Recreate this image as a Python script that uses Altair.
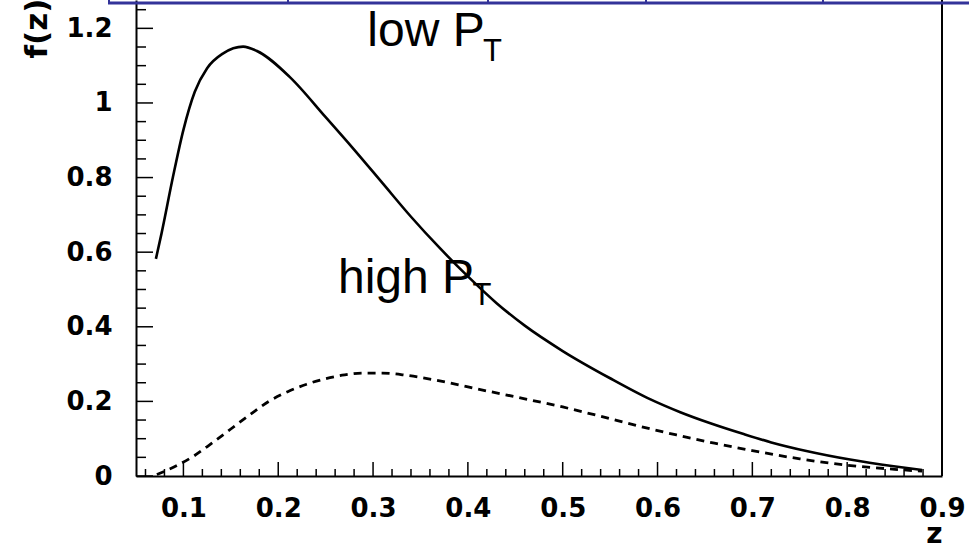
import altair as alt
import pandas as pd

# ---- data ----
low_z = [0.071, 0.077, 0.089, 0.100, 0.112, 0.125, 0.142, 0.163, 0.177, 0.212,
         0.25, 0.28, 0.31, 0.34, 0.37, 0.40, 0.43, 0.46, 0.50, 0.55,
         0.592, 0.624, 0.655, 0.69, 0.72, 0.757, 0.803, 0.849, 0.879]
low_f = [0.582, 0.651, 0.802, 0.928, 1.030, 1.093, 1.133, 1.151, 1.140, 1.070,
         0.962, 0.875, 0.785, 0.695, 0.612, 0.535, 0.464, 0.403, 0.335, 0.262,
         0.206, 0.171, 0.142, 0.113, 0.090, 0.067, 0.044, 0.026, 0.016]

high_z = [0.072, 0.09, 0.11, 0.13, 0.15, 0.17, 0.19, 0.21, 0.23, 0.25,
          0.27, 0.29, 0.31, 0.335, 0.364, 0.42, 0.46, 0.50, 0.54, 0.58,
          0.62, 0.66, 0.70, 0.75, 0.80, 0.85, 0.879]
high_f = [0.004, 0.024, 0.052, 0.088, 0.126, 0.164, 0.200, 0.226, 0.246, 0.261,
          0.271, 0.276, 0.276, 0.270, 0.258, 0.228, 0.207, 0.185, 0.160, 0.134,
          0.110, 0.088, 0.068, 0.046, 0.029, 0.018, 0.013]

x_major = [0.1, 0.2, 0.3, 0.4, 0.5, 0.6, 0.7, 0.8]
x_minor = [0.06, 0.08, 0.12, 0.14, 0.16, 0.18, 0.22, 0.24, 0.26, 0.28,
           0.32, 0.34, 0.36, 0.38, 0.42, 0.44, 0.46, 0.48, 0.52, 0.54,
           0.56, 0.58, 0.62, 0.64, 0.66, 0.68, 0.72, 0.74, 0.76, 0.78,
           0.82, 0.84, 0.86, 0.88]
x_labels = [0.1, 0.2, 0.3, 0.4, 0.5, 0.6, 0.7, 0.8, 0.9]
y_major = [0, 0.2, 0.4, 0.6, 0.8, 1.0, 1.2]
y_minor = [0.05, 0.1, 0.15, 0.25, 0.3, 0.35, 0.45, 0.5, 0.55, 0.65, 0.7, 0.75,
           0.85, 0.9, 0.95, 1.05, 1.1, 1.15, 1.25]

ann_text = ["low P", "T", "high P", "T"]
ann_z = [0.294, 0.416, 0.263, 0.405]
ann_f = [1.153, 1.113, 0.491, 0.459]
ann_size = [48, 31, 48, 31]

W, H = 806, 476
XDOM = [0.05, 0.9]
YDOM = [0, 1.276]

xs = alt.Scale(domain=XDOM, nice=False, zero=False)
ys = alt.Scale(domain=YDOM, nice=False, zero=False)

low_df = pd.DataFrame({"z": low_z, "f": low_f})
high_df = pd.DataFrame({"z": high_z, "f": high_f})

axis_common = dict(
    domain=True, domainColor="black", domainWidth=2,
    ticks=False, tickSize=0, grid=False,
    labelFont="DejaVu Sans", labelFontWeight="bold", labelFontSize=26,
    labelColor="black", labelOverlap=False, labelFlush=False,
    titleFont="DejaVu Sans", titleFontWeight="bold",
    titleColor="black",
)

xaxis = alt.Axis(values=x_labels, format=".1f", labelPadding=19,
                 title="z", titleX=W, titleY=66, titleAlign="right",
                 titleBaseline="alphabetic", titleAngle=0, titleFontSize=28,
                 **axis_common)
yaxis = alt.Axis(values=y_major, format="~g", labelPadding=24,
                 title="f(z)", titleX=-90, titleY=-2, titleAlign="right",
                 titleBaseline="alphabetic", titleAngle=-90, titleFontSize=31,
                 **axis_common)

low = alt.Chart(low_df).mark_line(color="black", strokeWidth=2.6, interpolate="monotone").encode(
    x=alt.X("z:Q", scale=xs, axis=xaxis),
    y=alt.Y("f:Q", scale=ys, axis=yaxis),
)
high = alt.Chart(high_df).mark_line(color="black", strokeWidth=2.8, strokeDash=[8, 6],
                                    interpolate="monotone").encode(
    x=alt.X("z:Q", scale=xs),
    y=alt.Y("f:Q", scale=ys),
)

xmaj = alt.Chart(pd.DataFrame({"z": x_major})).mark_rule(color="black", strokeWidth=1.5).encode(
    x=alt.X("z:Q", scale=xs), y=alt.value(H - 14), y2=alt.value(H))
xmin = alt.Chart(pd.DataFrame({"z": x_minor})).mark_rule(color="black", strokeWidth=1.5).encode(
    x=alt.X("z:Q", scale=xs), y=alt.value(H - 7), y2=alt.value(H))
ymaj = alt.Chart(pd.DataFrame({"f": y_major})).mark_rule(color="black", strokeWidth=1.5).encode(
    y=alt.Y("f:Q", scale=ys), x=alt.value(0), x2=alt.value(17))
ymin = alt.Chart(pd.DataFrame({"f": y_minor})).mark_rule(color="black", strokeWidth=1.5).encode(
    y=alt.Y("f:Q", scale=ys), x=alt.value(0), x2=alt.value(10))

right_frame = alt.Chart(alt.Data(values=[{}])).mark_rule(color="black", strokeWidth=2).encode(
    x=alt.value(W), y=alt.value(0), y2=alt.value(H))

ann_df = pd.DataFrame({"t": ann_text, "z": ann_z, "f": ann_f, "s": ann_size})
ann = alt.Chart(ann_df).mark_text(font="Liberation Sans", align="left",
                                  baseline="alphabetic", color="black").encode(
    x=alt.X("z:Q", scale=xs), y=alt.Y("f:Q", scale=ys), text="t:N",
    size=alt.Size("s:Q", scale=None, legend=None))

blue = "#333399"
blue_h = alt.Chart(alt.Data(values=[{}])).mark_rule(color=blue, strokeWidth=3).encode(
    x=alt.value(-28), x2=alt.value(969 - 136), y=alt.value(3))
blue_v = [alt.Chart(alt.Data(values=[{}])).mark_rule(color=blue, strokeWidth=2).encode(
    x=alt.value(px), y=alt.value(0), y2=alt.value(4)) for px in (-27, 152, 352, 510, 687)]

chart = alt.layer(xmin, xmaj, ymin, ymaj, right_frame, high, low, ann, blue_h, *blue_v).properties(
    width=W, height=H,
    autosize=alt.AutoSizeParams(type="none"),
    padding={"left": 136, "top": 0, "right": 969 - 136 - W, "bottom": 550 - H},
    background="white",
).configure_view(stroke=None)

chart.save("out.html", embed_options={"renderer": "svg", "actions": False})
